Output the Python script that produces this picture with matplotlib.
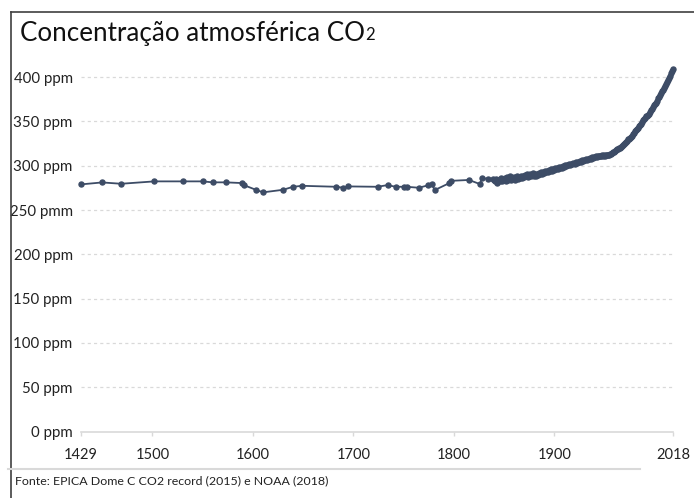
import matplotlib.pyplot as plt
from matplotlib.lines import Line2D

plt.rcParams['font.family'] = ['Lato', 'DejaVu Sans']

# ice core samples (sparse)
years_ice = [1429, 1450, 1469, 1502, 1530, 1550, 1560, 1573, 1589, 1591,
             1603, 1610, 1630, 1640, 1649, 1683, 1690, 1695, 1724, 1734,
             1742, 1750, 1753, 1765, 1774, 1778, 1781, 1795, 1797, 1815,
             1826, 1828, 1834, 1839]
co2_ice = [279.0, 281.2, 279.7, 282.4, 282.4, 282.4, 281.3, 281.3, 280.5, 278.2,
           272.9, 270.0, 272.9, 276.3, 277.4, 276.3, 275.2, 276.7, 276.3, 278.2,
           276.3, 276.3, 276.3, 275.2, 277.9, 279.0, 272.6, 280.2, 283.0, 284.0,
           279.3, 286.5, 285.0, 285.0]

# yearly values 1840-2018
years_annual = list(range(1840, 2019))
co2_annual = [
    284.0, 282.5, 285.5, 281.0, 283.5, 284.5, 283.0, 286.0, 282.5, 285.0,  # 1840s
    284.5, 286.5, 283.0, 287.5, 284.0, 285.5, 288.0, 284.5, 286.0, 285.0,  # 1850s
    287.5, 284.5, 286.0, 288.5, 285.5, 287.0, 286.0, 289.0, 286.5, 288.0,  # 1860s
    287.0, 289.5, 288.0, 290.5, 287.5, 289.0, 291.0, 288.5, 290.0, 291.5,  # 1870s
    289.0, 290.5, 288.5, 291.0, 289.5, 292.0, 290.5, 292.5, 291.0, 293.0,  # 1880s
    292.0, 294.0, 292.5, 294.5, 293.0, 295.0, 294.0, 296.0, 294.5, 296.5,  # 1890s
    295.5, 297.0, 296.0, 297.5, 296.5, 298.5, 297.5, 299.0, 298.0, 299.5,  # 1900s
    299.0, 300.5, 299.5, 301.0, 300.5, 302.0, 301.0, 302.5, 301.5, 303.0,  # 1910s
    302.5, 304.0, 303.0, 304.5, 304.0, 305.5, 304.5, 306.0, 305.5, 307.0,  # 1920s
    306.0, 307.5, 306.5, 308.0, 307.5, 308.5, 308.0, 309.5, 309.0, 310.0,  # 1930s
    309.5, 310.5, 310.0, 311.0, 310.5, 311.5, 311.0, 312.0, 311.5, 312.0,  # 1940s
    311.5, 312.0, 312.5, 312.0, 312.5, 313.0, 313.5, 314.0, 315.0,         # 1950-58
    315.98, 316.91, 317.64, 318.45, 318.99, 319.62, 320.04, 321.37, 322.18, 323.05,
    324.62, 325.68, 326.32, 327.46, 329.68, 330.19, 331.12, 332.03, 333.84, 335.41,
    336.84, 338.76, 340.12, 341.48, 343.15, 344.85, 346.35, 347.61, 349.31, 351.69,
    353.20, 354.45, 355.70, 356.54, 357.21, 358.96, 360.97, 362.74, 363.88, 366.84,
    368.54, 369.71, 371.32, 373.45, 375.98, 377.70, 379.98, 382.09, 384.02, 385.83,
    387.64, 390.10, 391.85, 394.06, 396.74, 398.81, 401.01, 404.41, 406.76, 408.72,
]

years = years_ice + years_annual
co2 = co2_ice + co2_annual

y_ticks = [0, 50, 100, 150, 200, 250, 300, 350, 400]
y_labels = ['0 ppm', '50 ppm', '100 ppm', '150 ppm', '200 ppm',
            '250 pmm', '300 ppm', '350 ppm', '400 ppm']
x_ticks = [1429, 1500, 1600, 1700, 1800, 1900, 2018]

title = 'Concentração atmosférica CO'
source = 'Fonte: EPICA Dome C CO2 record (2015) e NOAA (2018)'

line_color = '#3d4c66'
grid_color = '#d9d9d9'

W, H = 694, 498
fig = plt.figure(figsize=(W / 100, H / 100), dpi=100)
ax = fig.add_axes([81 / W, 66.5 / H, 592 / W, 372 / H])

ax.plot(years, co2, color=line_color, lw=1.3, marker='o', ms=3.6,
        mec=line_color, mfc=line_color, clip_on=False, zorder=3)

ax.set_xlim(1429, 2018)
ax.set_ylim(0, 420)

ax.set_yticks(y_ticks)
ax.set_yticklabels(y_labels, fontsize=10.8, color='#222222')
ax.set_xticks(x_ticks)
ax.set_xticklabels([str(x) for x in x_ticks], fontsize=10.5, color='#222222')

for spine in ['top', 'right', 'left']:
    ax.spines[spine].set_visible(False)
ax.spines['bottom'].set_color(grid_color)
ax.spines['bottom'].set_linewidth(1.2)

ax.tick_params(axis='y', length=0, pad=6)
ax.tick_params(axis='x', length=3, width=1, color=grid_color, pad=9)

for v in y_ticks[1:]:
    ax.axhline(v, color=grid_color, lw=0.9, ls=(0, (2.5, 2.5)), zorder=1)

# title with subscript digit
t = fig.text(20 / W, 1 - 33 / H, title, fontsize=18.7, va='center', color='#111111')
ax.annotate('2', xy=(1, 0.12), xycoords=t, fontsize=12, va='bottom',
            color='#111111', annotation_clip=False)

fig.text(15 / W, 1 - 481 / H, source, fontsize=8.9, va='center', color='#222222')

# frame edges and separator
fig.add_artist(Line2D([11 / W, 11 / W], [0, 1 - 12 / H], color='#404040', lw=1.2))
fig.add_artist(Line2D([11 / W, 1], [1 - 12 / H, 1 - 12 / H], color='#404040', lw=1.2))
fig.add_artist(Line2D([8 / W, 640 / W], [1 - 469 / H, 1 - 469 / H], color=grid_color, lw=1.5))

fig.savefig('out.png', dpi=100)
